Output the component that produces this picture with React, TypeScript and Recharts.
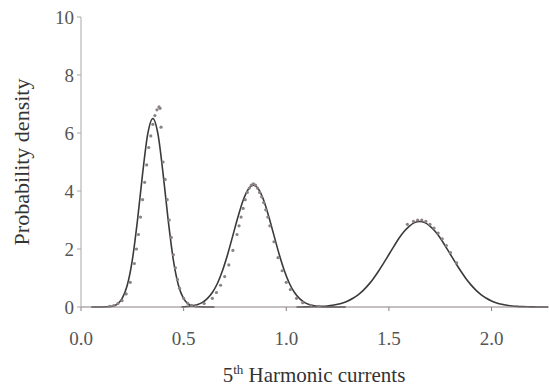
import React from 'react';
import { ComposedChart, Line, Scatter, XAxis, YAxis } from 'recharts';

// Fitted density curve, first peak
const curve1X = [0.05, 0.1, 0.125, 0.15, 0.175, 0.2, 0.225, 0.25, 0.275, 0.3, 0.325, 0.35, 0.375, 0.4, 0.425, 0.45, 0.475, 0.5, 0.525, 0.55, 0.575, 0.6, 0.65];
const curve1Y = [0, 0.001, 0.006, 0.025, 0.092, 0.29, 0.74, 1.62, 2.98, 4.59, 5.96, 6.5, 5.96, 4.59, 2.98, 1.62, 0.74, 0.29, 0.092, 0.025, 0.006, 0.001, 0];

// Fitted density curve, second peak
const curve2X = [0.49, 0.515, 0.54, 0.565, 0.59, 0.615, 0.64, 0.665, 0.69, 0.715, 0.74, 0.765, 0.79, 0.815, 0.84, 0.865, 0.89, 0.915, 0.94, 0.965, 0.99, 1.015, 1.04, 1.065, 1.09, 1.115, 1.14, 1.165, 1.19, 1.24, 1.29];
const curve2Y = [0.006, 0.015, 0.035, 0.076, 0.15, 0.29, 0.5, 0.82, 1.27, 1.83, 2.47, 3.11, 3.68, 4.06, 4.2, 4.06, 3.68, 3.11, 2.47, 1.83, 1.27, 0.82, 0.5, 0.29, 0.15, 0.076, 0.035, 0.015, 0.006, 0.001, 0];

// Fitted density curve, third peak
const curve3X = [1.05, 1.075, 1.1, 1.125, 1.15, 1.175, 1.2, 1.225, 1.25, 1.275, 1.3, 1.325, 1.35, 1.375, 1.4, 1.425, 1.45, 1.475, 1.5, 1.525, 1.55, 1.575, 1.6, 1.625, 1.65, 1.675, 1.7, 1.725, 1.75, 1.775, 1.8, 1.825, 1.85, 1.875, 1.9, 1.925, 1.95, 1.975, 2.0, 2.025, 2.05, 2.075, 2.1, 2.125, 2.15, 2.175, 2.2, 2.225, 2.25, 2.275];
const curve3Y = [0.0012, 0.0023, 0.0042, 0.0076, 0.013, 0.022, 0.037, 0.059, 0.092, 0.141, 0.208, 0.3, 0.421, 0.574, 0.763, 0.986, 1.24, 1.52, 1.81, 2.1, 2.38, 2.61, 2.79, 2.91, 2.95, 2.91, 2.79, 2.61, 2.38, 2.1, 1.81, 1.52, 1.24, 0.986, 0.763, 0.574, 0.421, 0.3, 0.208, 0.141, 0.092, 0.059, 0.037, 0.022, 0.013, 0.0076, 0.0042, 0.0023, 0.0012, 0.0006];

// Empirical density points
const pointsX = [
  0.14, 0.16, 0.18, 0.2, 0.22, 0.24, 0.26, 0.27, 0.28, 0.29, 0.3, 0.31, 0.32, 0.33, 0.34, 0.35, 0.36, 0.37, 0.38, 0.385, 0.39, 0.4, 0.41, 0.42, 0.43, 0.44, 0.45, 0.46, 0.47, 0.48, 0.5, 0.52, 0.54, 0.56,
  0.6, 0.64, 0.66, 0.68, 0.7, 0.72, 0.74, 0.76, 0.77, 0.78, 0.79, 0.8, 0.81, 0.82, 0.83, 0.84, 0.85, 0.86, 0.87, 0.88, 0.89, 0.9, 0.91, 0.92, 0.94, 0.96, 0.98, 1.0, 1.02, 1.05, 1.08, 1.12, 1.16,
  1.59, 1.62, 1.64, 1.66, 1.68, 1.7, 1.72, 1.74, 1.76, 1.78, 1.8, 1.83,
];
const pointsY = [
  0.02, 0.05, 0.12, 0.22, 0.45, 0.85, 1.5, 2.0, 2.5, 3.1, 3.7, 4.3, 4.9, 5.5, 5.9, 6.3, 6.6, 6.8, 6.9, 6.85, 6.2, 5.0, 4.4, 3.7, 3.0, 2.4, 1.8, 1.35, 0.95, 0.65, 0.3, 0.13, 0.06, 0.03,
  0.12, 0.3, 0.5, 0.75, 1.05, 1.45, 1.95, 2.5, 2.8, 3.1, 3.4, 3.7, 3.95, 4.1, 4.2, 4.25, 4.2, 4.1, 3.95, 3.8, 3.6, 3.35, 3.1, 2.8, 2.25, 1.7, 1.25, 0.85, 0.6, 0.3, 0.15, 0.06, 0.02,
  2.85, 2.95, 3.0, 3.0, 2.95, 2.85, 2.72, 2.55, 2.35, 2.12, 1.88, 1.52,
];

const xTicks = [0, 0.5, 1.0, 1.5, 2.0];
const yTicks = [0, 2, 4, 6, 8, 10];

const zip = (xs: number[], ys: number[]) => xs.map((x, i) => ({ x, y: ys[i] }));
const curve1 = zip(curve1X, curve1Y);
const curve2 = zip(curve2X, curve2Y);
const curve3 = zip(curve3X, curve3Y);
const points = zip(pointsX, pointsY);

const FONT = '"Liberation Serif", "Times New Roman", serif';

const XTitle = () => (
  <text x={314} y={382} textAnchor="middle" fill="#333" fontFamily={FONT} fontSize={21}>
    <tspan>5</tspan>
    <tspan fontSize={13} dy={-8}>th</tspan>
    <tspan dy={8}> Harmonic currents</tspan>
  </text>
);

const YTitle = () => (
  <text
    x={21}
    y={162}
    transform="rotate(-90, 21, 162)"
    textAnchor="middle"
    dominantBaseline="central"
    fill="#333"
    fontFamily={FONT}
    fontSize={22}
  >
    Probability density
  </text>
);

const Dot = (props: any) => {
  const { cx, cy } = props;
  if (cx == null || cy == null) return null;
  return <circle cx={cx} cy={cy} r={1.6} fill="#8d8283" />;
};

export default function App() {
  return (
    <div style={{ position: 'absolute', left: 0, top: 0, width: 549, height: 389, background: '#fff' }}>
      <ComposedChart width={549} height={389} margin={{ top: 17, right: 0, bottom: 0, left: 0 }}>
        <XAxis
          type="number"
          dataKey="x"
          domain={[0, 2.28]}
          allowDataOverflow
          ticks={xTicks}
          tickFormatter={(v: number) => v.toFixed(1)}
          height={82}
          stroke="#8c7f7f"
          tickSize={4}
          tickMargin={21}
          tick={{ fill: '#555', fontSize: 19, fontFamily: FONT }}
          label={<XTitle />}
        />
        <YAxis
          type="number"
          dataKey="y"
          domain={[0, 10]}
          ticks={yTicks}
          width={81}
          stroke="#a8a8a8"
          tickSize={4}
          tickMargin={3}
          tick={{ fill: '#555', fontSize: 19, fontFamily: FONT }}
          label={<YTitle />}
        />
        <Scatter data={points} dataKey="y" shape={<Dot />} isAnimationActive={false} />
        <Line data={curve1} dataKey="y" type="monotone" stroke="#3a3a3a" strokeWidth={1.6} dot={false} isAnimationActive={false} />
        <Line data={curve2} dataKey="y" type="monotone" stroke="#3a3a3a" strokeWidth={1.6} dot={false} isAnimationActive={false} />
        <Line data={curve3} dataKey="y" type="monotone" stroke="#3a3a3a" strokeWidth={1.6} dot={false} isAnimationActive={false} />
      </ComposedChart>
    </div>
  );
}
